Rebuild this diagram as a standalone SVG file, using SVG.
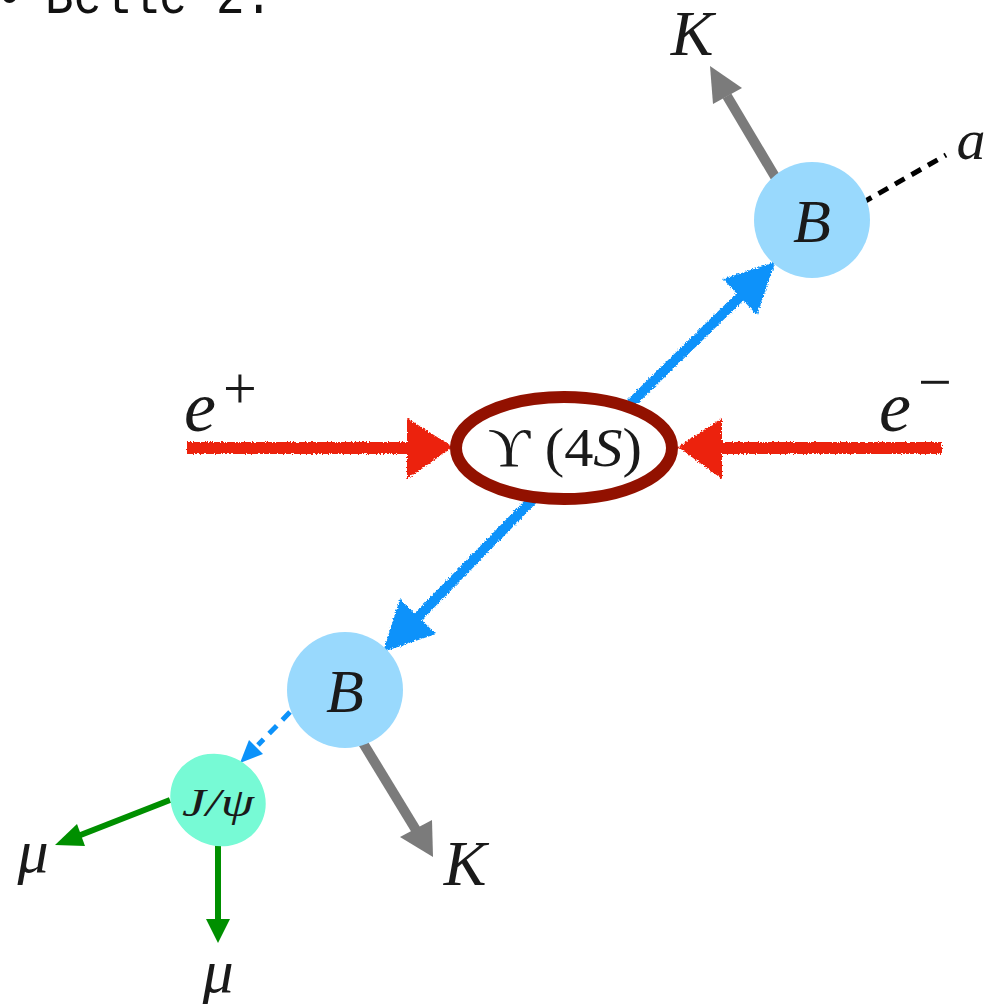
<svg xmlns="http://www.w3.org/2000/svg" width="989" height="1004" viewBox="0 0 989 1004">
<style>
.math{font-family:'Liberation Serif','Times New Roman',serif;font-style:italic;fill:#1a1a1a}
.rm{font-family:'Liberation Serif','Times New Roman',serif;font-style:normal;fill:#1a1a1a}
.red{stroke:#EC2410;stroke-width:12;fill:none}
.redh{fill:#EC2410}
.blue{stroke:#0C92FA;stroke-width:10;fill:none}
.blueh{fill:#0C92FA}
.gray{stroke:#7B7B7B;stroke-width:10;fill:none}
.grayh{fill:#7B7B7B}
.green{stroke:#008F00;stroke-width:6;fill:none}
.greenh{fill:#008F00}
.bnode{fill:#99D9FD}
</style>
<defs>
<filter id="rough" x="-10%" y="-10%" width="120%" height="120%">
<feTurbulence type="fractalNoise" baseFrequency="0.6" numOctaves="2" seed="3" result="n"/>
<feDisplacementMap in="SourceGraphic" in2="n" scale="4" xChannelSelector="R" yChannelSelector="G"/>
</filter>
</defs>
<rect width="989" height="1004" fill="#ffffff"/>
<text x="-6" y="13" font-family="'Liberation Mono','Courier New',monospace" font-size="52" fill="#111">•</text>
<text x="45" y="13" font-family="'Liberation Mono','Courier New',monospace" font-size="56" fill="#111" textLength="228" lengthAdjust="spacingAndGlyphs">Belle 2:</text>

<g id="connectors">
<g filter="url(#rough)">
<line class="red" x1="187" y1="448" x2="412" y2="448"/>
<polygon class="redh" points="453,447 407,418 407,479"/>
<line class="red" x1="942" y1="448" x2="718" y2="448"/>
<polygon class="redh" points="678,447 722,418 722,479"/>
<line class="blue" x1="627" y1="407" x2="745" y2="292"/>
<polygon class="blueh" points="775,262 757,315 723,279"/>
<line class="blue" x1="540" y1="492" x2="415" y2="620"/>
<polygon class="blueh" points="383,652 400,599 436,634"/>
</g>
<line class="gray" x1="777" y1="180" x2="727" y2="96"/>
<polygon class="grayh" points="710,66 713,104 742,88"/>
<line class="gray" x1="363" y1="743" x2="416" y2="830"/>
<polygon class="grayh" points="433,857 400,837 432,820"/>
<line x1="862" y1="203" x2="946" y2="155" stroke="#000" stroke-width="5" stroke-dasharray="11,8"/>
<line x1="290" y1="712" x2="258" y2="745" stroke="#0C92FA" stroke-width="5" stroke-dasharray="11,8"/>
<polygon class="blueh" points="240,763 249,740 263,754"/>
<line class="green" x1="170" y1="800" x2="78" y2="836"/>
<polygon class="greenh" points="55,845 77,824 85,846"/>
<line class="green" x1="218" y1="843" x2="218" y2="920"/>
<polygon class="greenh" points="218,943 206,919 230,919"/>
</g>

<g id="upsilon">
<ellipse cx="564" cy="448" rx="108" ry="51" fill="#fff" stroke="#921100" stroke-width="12"/>
<text x="565" y="466" text-anchor="middle" font-size="54" class="rm" textLength="154" lengthAdjust="spacingAndGlyphs">ϒ (4<tspan font-style="italic">S</tspan>)</text>
</g>

<g id="B-upper">
<circle cx="812" cy="220" r="58" class="bnode"/>
<text x="812" y="242" text-anchor="middle" font-size="62" class="math">B</text>
</g>

<g id="B-lower">
<circle cx="345" cy="690" r="58" class="bnode"/>
<text x="345" y="712" text-anchor="middle" font-size="62" class="math">B</text>
</g>

<g id="jpsi">
<ellipse cx="218" cy="800" rx="49" ry="45" fill="#77FAD5" transform="rotate(35 218 800)"/>
<text x="218" y="816" text-anchor="middle" font-size="40" class="math" textLength="72" lengthAdjust="spacingAndGlyphs">J/ψ</text>
</g>

<g id="labels">
<text x="692" y="55" text-anchor="middle" font-size="64" class="math">K</text>
<text x="465" y="885" text-anchor="middle" font-size="64" class="math">K</text>
<text x="971" y="159" text-anchor="middle" font-size="58" class="math">a</text>
<text x="200" y="431" text-anchor="middle" font-size="72" class="math">e</text>
<text x="240" y="408" text-anchor="middle" font-size="60" class="rm">+</text>
<text x="895" y="431" text-anchor="middle" font-size="72" class="math">e</text>
<text x="935" y="402" text-anchor="middle" font-size="60" class="rm">−</text>
<text x="33" y="872" text-anchor="middle" font-size="62" class="math">μ</text>
<text x="218" y="992" text-anchor="middle" font-size="62" class="math">μ</text>
</g>
</svg>
